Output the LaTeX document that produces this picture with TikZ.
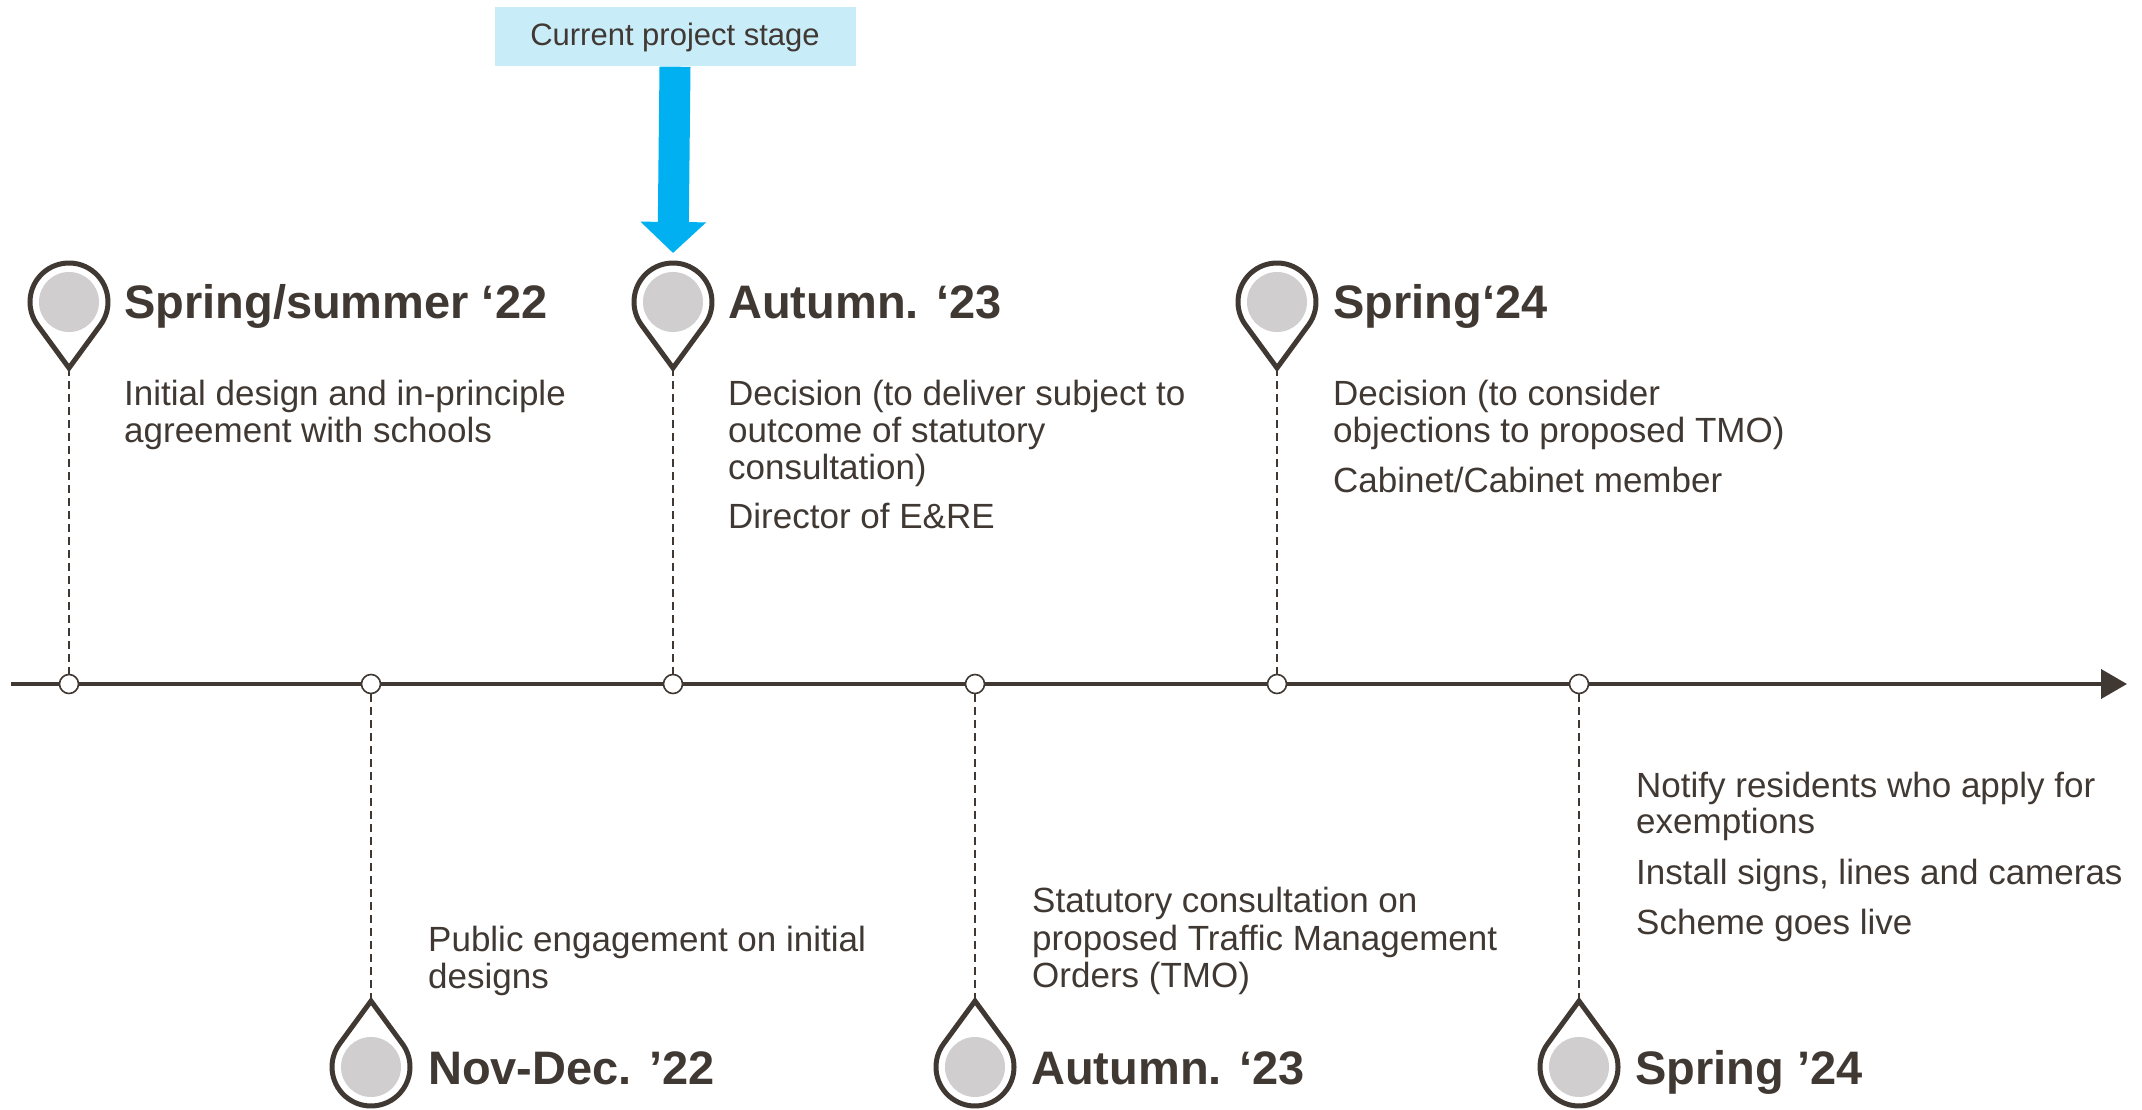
\documentclass[tikz,border=0pt]{standalone}
\usepackage{fontspec}
\setmainfont{Liberation Sans}
\usetikzlibrary{arrows.meta,positioning}
\definecolor{ink}{RGB}{64,56,51}
\definecolor{pingrey}{RGB}{208,206,206}
\definecolor{stagebg}{RGB}{201,236,249}
\definecolor{stageblue}{RGB}{0,176,240}

\begin{document}
\begin{tikzpicture}[
  x=1pt,y=1pt,
  axis/.style={draw=ink,line width=4pt,-{Triangle[length=26pt,width=29pt]}},
  tickdot/.style={circle,draw=ink,fill=white,line width=1.6pt,minimum size=19pt,inner sep=0pt},
  guide/.style={draw=ink,line width=2pt,dash pattern=on 8pt off 5pt},
  heading/.style={anchor=base west,inner sep=0pt,text=ink,font=\fontsize{47}{52}\selectfont\bfseries},
  note/.style={anchor=base west,inner sep=0pt,align=left,text=ink,font=\fontsize{35}{37}\selectfont},
  stagebox/.style={fill=stagebg,text=ink,font=\fontsize{31}{36}\selectfont,minimum width=361pt,minimum height=59pt,inner sep=0pt},
  stagearrow/.style={draw=stageblue,line width=31pt,-{Triangle[length=31pt,width=64pt]}},
  pinline/.style={draw=ink,line width=5pt,line join=miter},
  pindown/.pic={
    \fill[pingrey] (0,0) circle (30);
    \draw[pinline] (-36:39) arc (-36:216:39) -- (0,-66) -- cycle;
    \coordinate (-tip) at (0,-66);
    \coordinate (-top) at (0,42);
  },
  pinup/.pic={
    \fill[pingrey] (0,0) circle (30);
    \draw[pinline] (144:39) arc (144:396:39) -- (0,66) -- cycle;
    \coordinate (-tip) at (0,66);
  }
]
\useasboundingbox (0,0) rectangle (2142,1109);

% time axis
\node[tickdot] (t1) at (69,425) {};
\node[tickdot] (t2) at (371,425) {};
\node[tickdot] (t3) at (673,425) {};
\node[tickdot] (t4) at (975,425) {};
\node[tickdot] (t5) at (1277,425) {};
\node[tickdot] (t6) at (1579,425) {};
\coordinate (start) at (11,425);
\coordinate (end) at (2127,425);
\draw[axis] (start) -- (t1) -- (t2) -- (t3) -- (t4) -- (t5) -- (t6) -- (end);

% milestones above the axis
\pic (p1) at (69,807) {pindown};
\pic (p3) at (673,807) {pindown};
\pic (p5) at (1277,807) {pindown};
\draw[guide] (p1-tip) -- (t1);
\draw[guide] (p3-tip) -- (t3);
\draw[guide] (p5-tip) -- (t5);

\node[heading] (h1) at (124,790) {Spring/summer ‘22};
\node[heading] (h3) at (728,790) {Autumn. ‘23};
\node[heading] (h5) at (1333,790) {Spring‘24};

% notes sit on the baseline of their last line
\node[note] (n1) at (124,666) {Initial design and in-principle\\agreement with schools};
\node[note] (n3) at (728,580) {Decision (to deliver subject to\\outcome of statutory\\consultation)\\[12pt]Director of E\&RE};
\node[note] (n5) at (1333,616) {Decision (to consider\\objections to proposed TMO)\\[13pt]Cabinet/Cabinet member};

% milestones below the axis
\pic (p2) at (371,42) {pinup};
\pic (p4) at (975,42) {pinup};
\pic (p6) at (1579,42) {pinup};
\draw[guide] (t2) -- (p2-tip);
\draw[guide] (t4) -- (p4-tip);
\draw[guide] (t6) -- (p6-tip);

\node[heading] (h2) at (428,25) {Nov-Dec. ’22};
\node[heading] (h4) at (1031,25) {Autumn. ‘23};
\node[heading] (h6) at (1635,25) {Spring ’24};

\node[note] (n2) at (428,121) {Public engagement on initial\\designs};
\node[note] (n4) at (1032,122) {Statutory consultation on\\proposed Traffic Management\\Orders (TMO)};
\node[note] (n6) at (1636,175) {Notify residents who apply for\\exemptions\\[13pt]Install signs, lines and cameras\\[13pt]Scheme goes live};

% current stage marker
\node[stagebox] (stage) at (675,1072) {Current project stage};
\coordinate (aim) at ([yshift=7pt]p3-top);
\draw[stagearrow] (stage.south) -- (aim);
\end{tikzpicture}
\end{document}
